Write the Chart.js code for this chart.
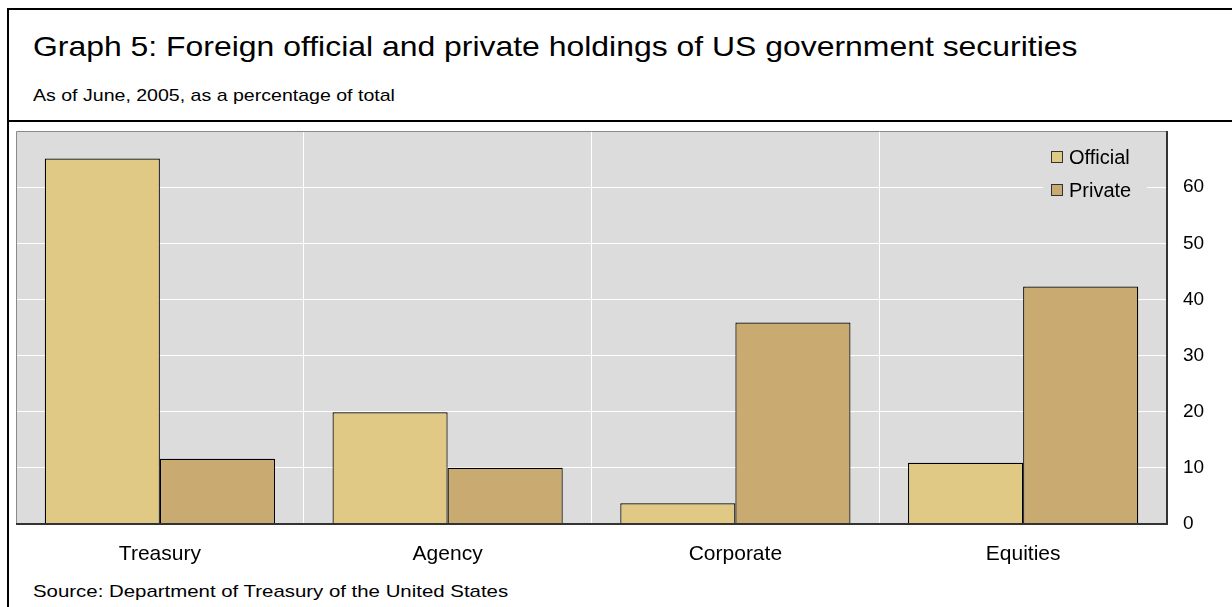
<!DOCTYPE html>
<html lang="en">
<head>
  <meta charset="UTF-8">
  <title>Graph 5 - Foreign holdings of US securities</title>
  <script src="https://cdn.jsdelivr.net/npm/chart.js"></script>
  <style>
    body { margin: 0; background: #fff; font-family: "Liberation Sans", Arial, sans-serif; color: #000; }
    .pagina { position: relative; width: 1232px; height: 607px; overflow: hidden; }
    .linha { position: absolute; background: #000; }
    .texto { position: absolute; left: 33px; white-space: nowrap; transform-origin: left center; }
    #titulo { top: 29px; font-size: 28px; line-height: 36px; transform: scaleX(1.14); }
    #subtitulo { top: 85px; font-size: 17px; line-height: 22px; transform: scaleX(1.15); }
    #fonte { top: 581px; font-size: 17px; line-height: 22px; transform: scaleX(1.2); }
    canvas { position: absolute; left: 0; top: 0; }
  </style>
</head>
<body>
  <div class="pagina">
    <div class="linha" style="left:7px; top:8px; right:0; height:2px;"></div>
    <div class="linha" style="left:7px; top:8px; width:2px; bottom:0;"></div>
    <div class="linha" style="left:7px; top:120px; right:0; height:2px;"></div>
    <div class="texto" id="titulo">Graph 5: Foreign official and private holdings of US government securities</div>
    <div class="texto" id="subtitulo">As of June, 2005, as a percentage of total</div>
    <div class="texto" id="fonte">Source: Department of Treasury of the United States</div>
    <canvas id="grafico" width="1232" height="607"></canvas>
  </div>

  <script>
    const categorias = ['Treasury', 'Agency', 'Corporate', 'Equities'];
    const oficial = [65.1, 19.9, 3.7, 10.9];
    const privado = [11.6, 10.0, 35.9, 42.3];
    const ticksY = [0, 10, 20, 30, 40, 50, 60];

    const corFundo = '#dcdcdc';
    const fonteBase = '"Liberation Sans", Arial, sans-serif';

    // fundo cinza da area do grafico
    const fundoPlot = {
      id: 'fundoPlot',
      beforeDraw(chart) {
        const { ctx, chartArea: a } = chart;
        ctx.save();
        ctx.fillStyle = corFundo;
        ctx.fillRect(a.left, a.top, a.right - a.left, a.bottom - a.top);
        ctx.restore();
      }
    };

    // moldura: claro em cima/esquerda, escuro embaixo/direita
    const moldura = {
      id: 'moldura',
      afterDatasetsDraw(chart) {
        const { ctx, chartArea: a } = chart;
        ctx.save();
        ctx.strokeStyle = '#8a8a8a';
        ctx.lineWidth = 1;
        ctx.beginPath();
        ctx.moveTo(a.left + 0.5, a.bottom);
        ctx.lineTo(a.left + 0.5, a.top + 0.5);
        ctx.lineTo(a.right, a.top + 0.5);
        ctx.stroke();
        ctx.strokeStyle = '#333';
        ctx.lineWidth = 2;
        ctx.beginPath();
        ctx.moveTo(a.left, a.bottom);
        ctx.lineTo(a.right, a.bottom);
        ctx.lineTo(a.right, a.top);
        ctx.stroke();
        ctx.restore();
      }
    };

    // legenda dentro da area, canto superior direito
    const legendaInterna = {
      id: 'legendaInterna',
      afterDatasetsDraw(chart) {
        const { ctx, chartArea: a } = chart;
        const x0 = a.right - 124;
        ctx.save();
        ctx.fillStyle = corFundo;
        ctx.fillRect(x0, a.top + 8, 104, 70);
        ctx.font = '20px ' + fonteBase;
        ctx.textBaseline = 'middle';
        chart.data.datasets.forEach((ds, i) => {
          const y = a.top + 26 + i * 33;
          ctx.fillStyle = ds.backgroundColor;
          ctx.fillRect(x0 + 8, y - 6, 12, 12);
          ctx.strokeStyle = '#333';
          ctx.lineWidth = 1;
          ctx.strokeRect(x0 + 8.5, y - 5.5, 11, 11);
          ctx.fillStyle = '#000';
          ctx.fillText(ds.label, x0 + 26, y + 1);
        });
        ctx.restore();
      }
    };

    new Chart(document.getElementById('grafico'), {
      type: 'bar',
      data: {
        labels: categorias,
        datasets: [
          { label: 'Official', data: oficial, backgroundColor: '#dfc984' },
          { label: 'Private', data: privado, backgroundColor: '#c9aa71' }
        ]
      },
      options: {
        responsive: false,
        animation: false,
        events: [],
        layout: { padding: { left: 16, top: 131, right: 0, bottom: 0 } },
        datasets: {
          bar: {
            categoryPercentage: 0.8,
            barPercentage: 1.0,
            borderWidth: 1.2,
            borderColor: '#000'
          }
        },
        plugins: {
          legend: { display: false },
          tooltip: { enabled: false }
        },
        scales: {
          x: {
            afterFit(scale) { scale.height = 83; },
            grid: { color: '#ffffff', lineWidth: 1, drawTicks: false, offset: true },
            border: { display: false },
            ticks: { color: '#000', padding: 18, font: { family: fonteBase, size: 21 } }
          },
          y: {
            position: 'right',
            min: 0,
            max: 70,
            afterFit(scale) { scale.width = 65; },
            afterBuildTicks(scale) { scale.ticks = ticksY.map(v => ({ value: v })); },
            grid: { color: '#ffffff', lineWidth: 1, drawTicks: false },
            border: { display: false },
            ticks: { color: '#000', padding: 16, font: { family: fonteBase, size: 19 } }
          }
        }
      },
      plugins: [fundoPlot, moldura, legendaInterna]
    });
  </script>
</body>
</html>
